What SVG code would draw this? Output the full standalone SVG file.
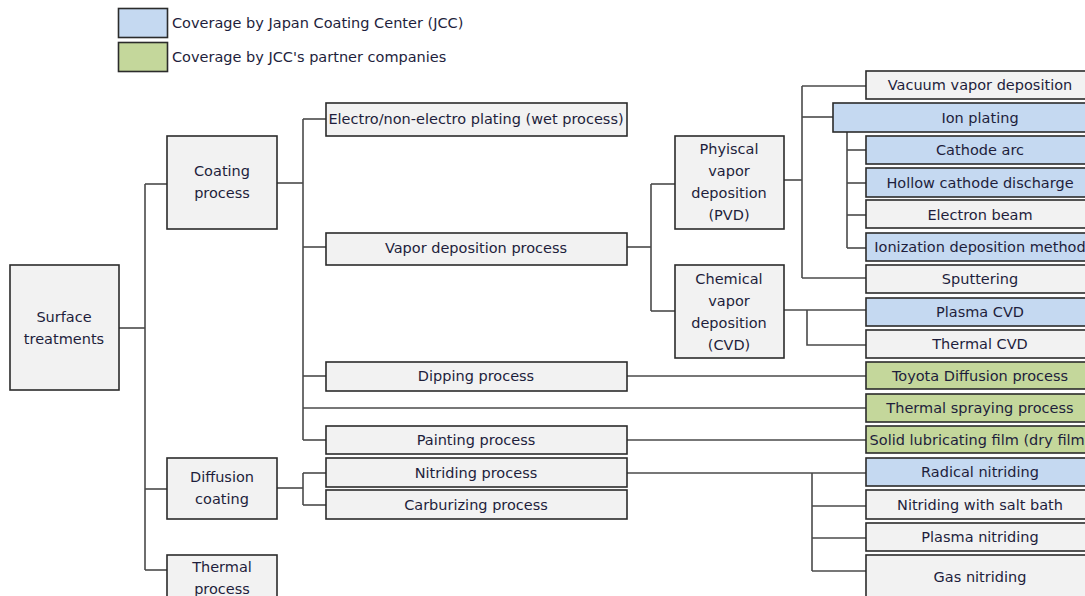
<svg xmlns="http://www.w3.org/2000/svg" width="1085" height="596" viewBox="0 0 1085 596">
  <style>
    text { font-family: "DejaVu Sans", "Liberation Sans", sans-serif; font-size: 14.5px; fill: #1e1e3c; }
    .c { text-anchor: middle; }
    .box { stroke: #2b2b2b; stroke-width: 1.6; }
    .gray { fill: #f2f2f2; }
    .blue { fill: #c5d9f1; }
    .green { fill: #c4d79b; }
    .wire { fill: none; stroke: #4a4a4a; stroke-width: 1.6; }
  </style>

  <!-- legend -->
  <g id="legend">
    <rect class="box blue" x="118.5" y="8.5" width="49" height="29"/>
    <text x="172" y="28">Coverage by Japan Coating Center (JCC)</text>
    <rect class="box green" x="118.5" y="42.5" width="49" height="29"/>
    <text x="172" y="62">Coverage by JCC's partner companies</text>
  </g>

  <!-- connectors -->
  <g id="connectors" class="wire">
    <!-- root trunk -->
    <path d="M119 328 H145"/>
    <path d="M145 184 V570"/>
    <path d="M145 184 H167"/>
    <path d="M145 489 H167"/>
    <path d="M145 570 H167"/>
    <!-- coating process branches -->
    <path d="M277 183 H303"/>
    <path d="M303 119 V440"/>
    <path d="M303 119 H326"/>
    <path d="M303 247 H326"/>
    <path d="M303 376 H326"/>
    <path d="M303 408 H866"/>
    <path d="M303 440 H326"/>
    <!-- diffusion coating branches -->
    <path d="M277 488 H303"/>
    <path d="M303 473 V505"/>
    <path d="M303 473 H326"/>
    <path d="M303 505 H326"/>
    <!-- vapor deposition branches -->
    <path d="M627 247 H651"/>
    <path d="M651 184 V311"/>
    <path d="M651 184 H675"/>
    <path d="M651 311 H675"/>
    <!-- PVD branches -->
    <path d="M784 180 H802"/>
    <path d="M802 86 V278"/>
    <path d="M802 86 H866"/>
    <path d="M802 117 H833"/>
    <path d="M802 278 H866"/>
    <!-- ion plating sub-methods -->
    <path d="M847 132 V248"/>
    <path d="M847 150 H866"/>
    <path d="M847 183 H866"/>
    <path d="M847 215 H866"/>
    <path d="M847 248 H866"/>
    <!-- CVD branches -->
    <path d="M784 310 H866"/>
    <path d="M807 310 V345 H866"/>
    <!-- dipping, painting, nitriding -->
    <path d="M627 376 H866"/>
    <path d="M627 440 H866"/>
    <path d="M627 473 H866"/>
    <path d="M812 473 V571"/>
    <path d="M812 506 H866"/>
    <path d="M812 538 H866"/>
    <path d="M812 571 H866"/>
  </g>

  <!-- level 0 -->
  <g id="surface-treatments">
    <rect class="box gray" x="10" y="265" width="109" height="125"/>
    <text class="c" x="64" y="322">Surface</text>
    <text class="c" x="64" y="344">treatments</text>
  </g>

  <!-- level 1 -->
  <g id="coating-process">
    <rect class="box gray" x="167" y="136" width="110" height="93"/>
    <text class="c" x="222" y="176">Coating</text>
    <text class="c" x="222" y="198">process</text>
  </g>
  <g id="diffusion-coating">
    <rect class="box gray" x="167" y="458" width="110" height="61"/>
    <text class="c" x="222" y="482">Diffusion</text>
    <text class="c" x="222" y="504">coating</text>
  </g>
  <g id="thermal-process">
    <rect class="box gray" x="167" y="555" width="110" height="60"/>
    <text class="c" x="222" y="572">Thermal</text>
    <text class="c" x="222" y="594">process</text>
  </g>

  <!-- level 2 -->
  <g id="plating">
    <rect class="box gray" x="326" y="103" width="301" height="33"/>
    <text class="c" x="476" y="124">Electro/non-electro plating (wet process)</text>
  </g>
  <g id="vapor-deposition">
    <rect class="box gray" x="326" y="233" width="301" height="32"/>
    <text class="c" x="476" y="253">Vapor deposition process</text>
  </g>
  <g id="dipping">
    <rect class="box gray" x="326" y="362" width="301" height="29"/>
    <text class="c" x="476" y="381">Dipping process</text>
  </g>
  <g id="painting">
    <rect class="box gray" x="326" y="426" width="301" height="28"/>
    <text class="c" x="476" y="445">Painting process</text>
  </g>
  <g id="nitriding">
    <rect class="box gray" x="326" y="458" width="301" height="29"/>
    <text class="c" x="476" y="478">Nitriding process</text>
  </g>
  <g id="carburizing">
    <rect class="box gray" x="326" y="490" width="301" height="29"/>
    <text class="c" x="476" y="510">Carburizing process</text>
  </g>

  <!-- level 3 -->
  <g id="pvd">
    <rect class="box gray" x="675" y="136" width="109" height="93"/>
    <text class="c" x="729" y="154">Phyiscal</text>
    <text class="c" x="729" y="176">vapor</text>
    <text class="c" x="729" y="198">deposition</text>
    <text class="c" x="729" y="220">(PVD)</text>
  </g>
  <g id="cvd">
    <rect class="box gray" x="675" y="265" width="109" height="93"/>
    <text class="c" x="729" y="284">Chemical</text>
    <text class="c" x="729" y="306">vapor</text>
    <text class="c" x="729" y="328">deposition</text>
    <text class="c" x="729" y="350">(CVD)</text>
  </g>

  <!-- leaf methods -->
  <g id="vacuum-vapor">
    <rect class="box gray" x="866" y="71" width="230" height="28"/>
    <text class="c" x="980" y="90">Vacuum vapor deposition</text>
  </g>
  <g id="ion-plating">
    <rect class="box blue" x="833" y="103" width="263" height="29"/>
    <text class="c" x="980" y="123">Ion plating</text>
  </g>
  <g id="cathode-arc">
    <rect class="box blue" x="866" y="136" width="230" height="28"/>
    <text class="c" x="980" y="155">Cathode arc</text>
  </g>
  <g id="hollow-cathode">
    <rect class="box blue" x="866" y="168" width="230" height="29"/>
    <text class="c" x="980" y="188">Hollow cathode discharge</text>
  </g>
  <g id="electron-beam">
    <rect class="box gray" x="866" y="200" width="230" height="28"/>
    <text class="c" x="980" y="220">Electron beam</text>
  </g>
  <g id="ionization">
    <rect class="box blue" x="866" y="233" width="230" height="28"/>
    <text class="c" x="980" y="252">Ionization deposition method</text>
  </g>
  <g id="sputtering">
    <rect class="box gray" x="866" y="265" width="230" height="28"/>
    <text class="c" x="980" y="284">Sputtering</text>
  </g>
  <g id="plasma-cvd">
    <rect class="box blue" x="866" y="298" width="230" height="28"/>
    <text class="c" x="980" y="317">Plasma CVD</text>
  </g>
  <g id="thermal-cvd">
    <rect class="box gray" x="866" y="330" width="230" height="28"/>
    <text class="c" x="980" y="349">Thermal CVD</text>
  </g>
  <g id="toyota-diffusion">
    <rect class="box green" x="866" y="362" width="230" height="27"/>
    <text class="c" x="980" y="381">Toyota Diffusion process</text>
  </g>
  <g id="thermal-spraying">
    <rect class="box green" x="866" y="394" width="230" height="28"/>
    <text class="c" x="980" y="413">Thermal spraying process</text>
  </g>
  <g id="solid-lubricating">
    <rect class="box green" x="866" y="426" width="230" height="27"/>
    <text class="c" x="980" y="445">Solid lubricating film (dry film)</text>
  </g>
  <g id="radical-nitriding">
    <rect class="box blue" x="866" y="458" width="230" height="28"/>
    <text class="c" x="980" y="477">Radical nitriding</text>
  </g>
  <g id="salt-bath">
    <rect class="box gray" x="866" y="490" width="230" height="29"/>
    <text class="c" x="980" y="510">Nitriding with salt bath</text>
  </g>
  <g id="plasma-nitriding">
    <rect class="box gray" x="866" y="523" width="230" height="28"/>
    <text class="c" x="980" y="542">Plasma nitriding</text>
  </g>
  <g id="gas-nitriding">
    <rect class="box gray" x="866" y="555" width="230" height="50"/>
    <text class="c" x="980" y="582">Gas nitriding</text>
  </g>
</svg>
